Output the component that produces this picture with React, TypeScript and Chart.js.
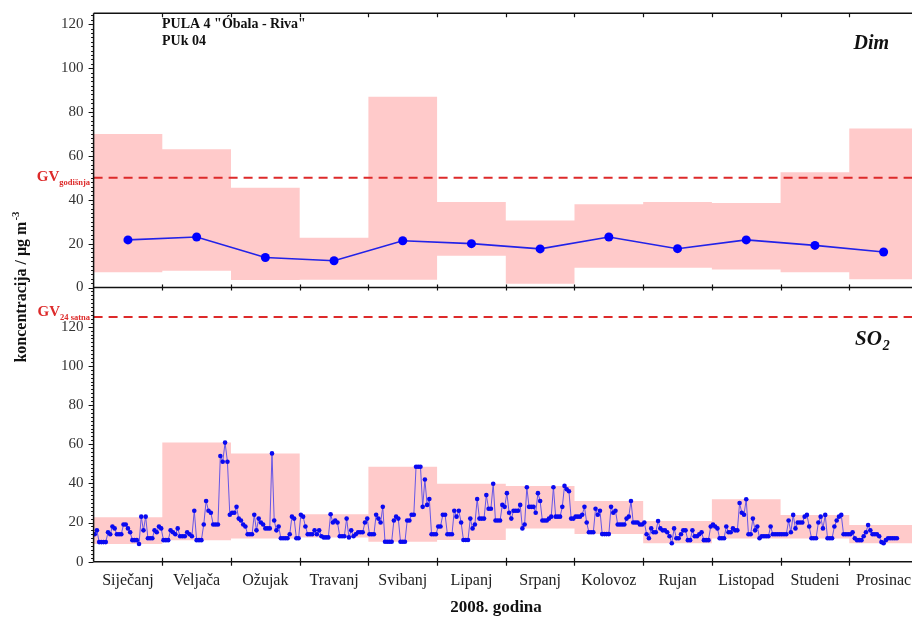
import { useEffect, useRef } from 'react';
import { Chart, registerables } from 'chart.js';

Chart.register(...registerables);

const SERIF = '"Liberation Serif", "Times New Roman", serif';

const MONTHS = ['Siječanj', 'Veljača', 'Ožujak', 'Travanj', 'Svibanj', 'Lipanj', 'Srpanj', 'Kolovoz', 'Rujan', 'Listopad', 'Studeni', 'Prosinac'];
const Y_TICKS = [0, 20, 40, 60, 80, 100, 120];

// Dim (smoke): monthly range and monthly mean, µg/m3
const DIM_MAX = [70, 63, 45.5, 22.7, 87, 39, 30.5, 38, 39, 38.5, 52.5, 72.5];
const DIM_MIN = [7, 7.6, 3.4, 3.5, 3.5, 14.5, 1.7, 9, 9, 8.2, 7, 3.8];
const DIM_MEAN = [21.7, 23, 13.7, 12.2, 21.3, 20, 17.6, 23, 17.7, 21.7, 19.2, 16.2];
const DIM_LIMIT = 50;

// SO2: monthly range of daily values, µg/m3
const SO2_MAX = [22.7, 60.8, 55.3, 24.2, 48.5, 39.8, 38.7, 31, 20.8, 31.9, 23.9, 18.7];
const SO2_MIN = [9, 10.9, 11.9, 12.4, 10.2, 11.1, 17, 14.1, 9.4, 11.9, 11.9, 9.4];
const SO2_LIMIT = 125;

// SO2 daily values, one row per month
const SO2_JAN = [14, 16, 10, 10, 10, 10, 15, 14, 18, 17, 14, 14, 14, 19, 19, 17, 15, 11, 11, 11, 9, 23, 16, 23, 12, 12, 12, 16, 15, 18, 17];
const SO2_FEB = [11, 11, 11, 16, 15, 14, 17, 13, 13, 13, 15, 14, 13, 26, 11, 11, 11, 19, 31, 26, 25, 19, 19, 19, 54, 51, 60.8, 51, 24];
const SO2_MAR = [25, 25, 28, 22, 21, 19, 18, 14, 14, 14, 24, 16, 22, 20, 19, 17, 17, 17, 55.3, 21, 16, 18, 12, 12, 12, 12, 14, 23, 22, 12, 12];
const SO2_APR = [24, 23, 18, 14, 14, 14, 16, 14, 16, 13, 12.4, 12.4, 12.4, 24.2, 20, 21, 20, 13, 13, 13, 22, 12.4, 16, 13, 14, 15, 15, 15, 20, 22];
const SO2_MAY = [14, 14, 14, 24, 22, 20, 28, 10.2, 10.2, 10.2, 10.2, 21, 23, 22, 10.2, 10.2, 10.2, 21, 21, 24, 24, 48.5, 48.5, 48.5, 28, 42, 29, 32, 14, 14, 14];
const SO2_JUN = [18, 18, 24, 24, 14, 14, 14, 26, 23, 26, 20, 11.1, 11.1, 11.1, 22, 17, 19, 32, 22, 22, 22, 34, 27, 27, 39.8, 21, 21, 21, 29, 28];
const SO2_JUL = [35, 25, 22, 26, 26, 26, 29, 17, 19, 38, 28, 28, 28, 25, 35, 31, 21, 21, 21, 22, 23, 38, 23, 23, 23, 28, 38.7, 37, 36, 22, 22];
const SO2_AUG = [23, 23, 23, 24, 28, 20, 15, 15, 15, 27, 24, 26, 14.1, 14.1, 14.1, 14.1, 28, 25, 26, 19, 19, 19, 19, 22, 23, 31, 20, 20, 20, 19, 19];
const SO2_SEP = [20, 14, 12, 17, 15, 15, 20.8, 17, 16, 16, 15, 13, 9.4, 17, 12, 12, 14, 16, 16, 11, 11, 16, 13, 13, 14, 15, 11, 11, 11, 18];
const SO2_OCT = [19, 18, 17, 12, 12, 12, 18, 15, 15, 17, 16, 16, 30, 25, 24, 31.9, 14, 14, 22, 16, 18, 12, 13, 13, 13, 13, 18, 14, 14, 14, 14];
const SO2_NOV = [14, 14, 14, 21, 15, 23.9, 17, 20, 20, 20, 23, 23.9, 18, 12, 12, 12, 20, 23, 17, 23.9, 12, 12, 12, 18, 21, 23, 23.9, 14, 14, 14];
const SO2_DEC = [14, 15, 12, 11, 11, 11, 13, 15, 18.7, 16, 14, 14, 14, 13, 10, 9.4, 11, 12, 12, 12, 12, 12];
const DAYS_IN_MONTH = [31, 29, 31, 30, 31, 30, 31, 31, 30, 31, 30, 31];
const SO2_DAILY = [SO2_JAN, SO2_FEB, SO2_MAR, SO2_APR, SO2_MAY, SO2_JUN, SO2_JUL, SO2_AUG, SO2_SEP, SO2_OCT, SO2_NOV, SO2_DEC];

// x axis runs in month units; the right edge of the figure cuts into December
const X_MAX = 11.913;

type Pt = { x: number; y: number };

function stepPoints(values: number[]): Pt[] {
  const pts: Pt[] = [];
  values.forEach((v, i) => {
    pts.push({ x: i, y: v }, { x: i + 1, y: v });
  });
  return pts;
}

function dailyPoints(): Pt[] {
  const pts: Pt[] = [];
  SO2_DAILY.forEach((row, m) => {
    row.forEach((v, d) => pts.push({ x: m + (d + 0.5) / DAYS_IN_MONTH[m], y: v }));
  });
  return pts;
}

const PINK = '#ffcaca';
const RED = '#dd2a2a';
const NONE = 'rgba(0,0,0,0)';

function noPadding(s: any) {
  s.paddingLeft = 0;
  s.paddingRight = 0;
  s.paddingTop = 0;
  s.paddingBottom = 0;
}

const framePlugin = {
  id: 'frameAndLabels',
  afterDraw(chart: any) {
    const { ctx, chartArea: ca } = chart;
    const xs = chart.scales.x;
    const yT = chart.scales.yTop;
    const yB = chart.scales.yBot;
    const midY = yT.getPixelForValue(0);
    ctx.save();

    // frame
    ctx.strokeStyle = '#111';
    ctx.lineWidth = 1.5;
    ctx.beginPath();
    ctx.moveTo(ca.left, ca.top);
    ctx.lineTo(ca.left, ca.bottom);
    ctx.moveTo(ca.left, ca.top);
    ctx.lineTo(ca.right, ca.top);
    ctx.moveTo(ca.left, midY);
    ctx.lineTo(ca.right, midY);
    ctx.moveTo(ca.left, ca.bottom);
    ctx.lineTo(ca.right, ca.bottom);
    ctx.stroke();

    // month boundary ticks
    ctx.lineWidth = 1.2;
    ctx.beginPath();
    for (let i = 1; i < 12; i++) {
      const px = Math.round(xs.getPixelForValue(i)) + 0.5;
      ctx.moveTo(px, ca.top);
      ctx.lineTo(px, ca.top + 4);
      ctx.moveTo(px, midY - 3);
      ctx.lineTo(px, midY + 3);
      ctx.moveTo(px, ca.bottom - 4);
      ctx.lineTo(px, ca.bottom + 4);
    }
    ctx.stroke();

    // y ticks, major and minor
    ctx.lineWidth = 1;
    ctx.beginPath();
    [
      [yT, 124],
      [yB, 138],
    ].forEach(([sc, top]: any) => {
      for (let v = 0; v <= top; v += 2) {
        const py = Math.round(sc.getPixelForValue(v)) + 0.5;
        const len = v % 20 === 0 ? 5 : 2.5;
        ctx.moveTo(ca.left - len, py);
        ctx.lineTo(ca.left, py);
      }
    });
    ctx.stroke();

    // station header
    ctx.fillStyle = '#111';
    ctx.textBaseline = 'alphabetic';
    ctx.textAlign = 'left';
    ctx.font = `bold 14px ${SERIF}`;
    ctx.fillText('PULA 4 "Óbala - Riva"', 162, 28);
    ctx.fillText('PUk 04', 162, 45);

    // panel names
    ctx.font = `bold italic 20px ${SERIF}`;
    ctx.textAlign = 'right';
    ctx.fillText('Dim', 889, 49);
    ctx.textAlign = 'left';
    ctx.font = `bold italic 21px ${SERIF}`;
    ctx.fillText('SO', 855, 345);
    const soW = ctx.measureText('SO').width;
    ctx.font = `bold italic 14px ${SERIF}`;
    ctx.fillText('2', 855 + soW + 1, 350);

    // limit value labels
    const drawGV = (sub: string, lineY: number) => {
      ctx.fillStyle = RED;
      ctx.textAlign = 'left';
      ctx.font = `bold 15px ${SERIF}`;
      const gvW = ctx.measureText('GV').width;
      ctx.font = `bold 8.5px ${SERIF}`;
      const subW = ctx.measureText(sub).width;
      const x0 = 90 - subW - gvW;
      ctx.font = `bold 15px ${SERIF}`;
      ctx.fillText('GV', x0, lineY + 3);
      ctx.font = `bold 8.5px ${SERIF}`;
      ctx.fillText(sub, x0 + gvW, lineY + 7);
    };
    drawGV('godišnja', yT.getPixelForValue(DIM_LIMIT));
    drawGV('24 satna', yB.getPixelForValue(SO2_LIMIT) - 4);

    // y axis title
    ctx.fillStyle = '#111';
    ctx.save();
    ctx.translate(26, (ca.top + ca.bottom) / 2);
    ctx.rotate(-Math.PI / 2);
    ctx.font = `bold 16px ${SERIF}`;
    const main = 'koncentracija / μg m';
    const mw = ctx.measureText(main).width;
    ctx.font = `bold 11px ${SERIF}`;
    const sw = ctx.measureText('-3').width;
    const start = -(mw + sw) / 2;
    ctx.font = `bold 16px ${SERIF}`;
    ctx.textAlign = 'left';
    ctx.fillText(main, start, 0);
    ctx.font = `bold 11px ${SERIF}`;
    ctx.fillText('-3', start + mw + 1, -7);
    ctx.restore();

    // x axis title
    ctx.font = `bold 17px ${SERIF}`;
    ctx.textAlign = 'center';
    ctx.fillStyle = '#111';
    ctx.fillText('2008. godina', 496, 612);

    ctx.restore();
  },
};

export default function App() {
  const ref = useRef<HTMLCanvasElement>(null);

  useEffect(() => {
    const tickFont = { family: SERIF, size: 15 };
    const yAxis = (max: number, weight: number) => ({
      type: 'linear' as const,
      position: 'left' as const,
      stack: 'panels',
      stackWeight: 1,
      weight,
      min: 0,
      max,
      afterBuildTicks: (s: any) => {
        s.ticks = Y_TICKS.map((v) => ({ value: v }));
      },
      afterFit: (s: any) => {
        s.width = 93.6;
        noPadding(s);
      },
      ticks: { padding: 10, color: '#333', font: tickFont },
      grid: { display: false, drawTicks: false },
      border: { display: false },
    });

    const chart = new Chart(ref.current as HTMLCanvasElement, {
      type: 'line',
      data: {
        datasets: [
          {
            label: 'Dim',
            yAxisID: 'yTop',
            data: DIM_MEAN.map((v, i) => ({ x: i + 0.5, y: v })),
            borderColor: '#2222e8',
            borderWidth: 1.6,
            pointRadius: 4.5,
            pointBackgroundColor: '#0000ff',
            pointBorderWidth: 0,
            fill: false,
            order: 1,
          },
          {
            label: 'SO2',
            yAxisID: 'yBot',
            data: dailyPoints(),
            borderColor: '#6656e6',
            borderWidth: 1,
            pointRadius: 2.3,
            pointBackgroundColor: '#0a0af0',
            pointBorderWidth: 0,
            fill: false,
            order: 1,
          },
          {
            label: 'GV godišnja',
            yAxisID: 'yTop',
            data: [{ x: 0, y: DIM_LIMIT }, { x: 12, y: DIM_LIMIT }],
            borderColor: RED,
            borderWidth: 2,
            borderDash: [9, 6],
            pointRadius: 0,
            fill: false,
            order: 2,
          },
          {
            label: 'GV 24 satna',
            yAxisID: 'yBot',
            data: [{ x: 0, y: SO2_LIMIT }, { x: 12, y: SO2_LIMIT }],
            borderColor: RED,
            borderWidth: 2,
            borderDash: [9, 6],
            pointRadius: 0,
            fill: false,
            order: 2,
          },
          {
            label: 'Dim max',
            yAxisID: 'yTop',
            data: stepPoints(DIM_MAX),
            borderColor: NONE,
            borderWidth: 0,
            pointRadius: 0,
            backgroundColor: PINK,
            fill: '+1',
            order: 3,
          },
          {
            label: 'Dim min',
            yAxisID: 'yTop',
            data: stepPoints(DIM_MIN),
            borderColor: NONE,
            borderWidth: 0,
            pointRadius: 0,
            fill: false,
            order: 3,
          },
          {
            label: 'SO2 max',
            yAxisID: 'yBot',
            data: stepPoints(SO2_MAX),
            borderColor: NONE,
            borderWidth: 0,
            pointRadius: 0,
            backgroundColor: PINK,
            fill: '+1',
            order: 3,
          },
          {
            label: 'SO2 min',
            yAxisID: 'yBot',
            data: stepPoints(SO2_MIN),
            borderColor: NONE,
            borderWidth: 0,
            pointRadius: 0,
            fill: false,
            order: 3,
          },
        ],
      },
      options: {
        responsive: false,
        animation: false,
        devicePixelRatio: 1,
        layout: { autoPadding: false, padding: { top: 13.3, left: 0, right: 0, bottom: 0 } },
        plugins: { legend: { display: false }, tooltip: { enabled: false } },
        elements: { line: { tension: 0 } },
        scales: {
          x: {
            type: 'linear',
            min: 0,
            max: X_MAX,
            afterBuildTicks: (s: any) => {
              s.ticks = MONTHS.map((_, i) => ({ value: i + 0.5 }));
            },
            afterFit: (s: any) => {
              s.height = 58.3;
              noPadding(s);
            },
            ticks: {
              autoSkip: false,
              maxRotation: 0,
              padding: 9,
              color: '#222',
              font: { family: SERIF, size: 16 },
              callback: (_v: any, i: number) => MONTHS[i],
            },
            grid: { display: false, drawTicks: false },
            border: { display: false },
          },
          yBot: yAxis(140, 0),
          yTop: yAxis(125, 1),
        },
      },
      plugins: [framePlugin],
    } as any);
    return () => chart.destroy();
  }, []);

  return (
    <div style={{ position: 'fixed', left: 0, top: 0, width: 912, height: 620, background: '#fff' }}>
      <canvas ref={ref} width={912} height={620} style={{ display: 'block' }} />
    </div>
  );
}
